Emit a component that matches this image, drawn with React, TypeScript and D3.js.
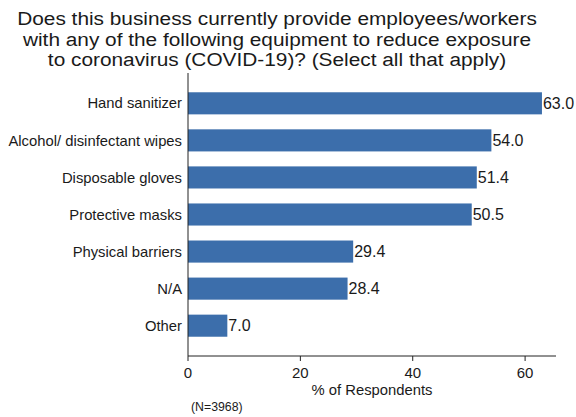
import React from "react";
import * as d3 from "d3";

const categories = [
  "Hand sanitizer",
  "Alcohol/ disinfectant wipes",
  "Disposable gloves",
  "Protective masks",
  "Physical barriers",
  "N/A",
  "Other",
];
const values = [63.0, 54.0, 51.4, 50.5, 29.4, 28.4, 7.0];
const xTicks = [0, 20, 40, 60];
const titleLines = [
  "Does this business currently provide employees/workers",
  "with any of the following equipment to reduce exposure",
  "to coronavirus (COVID-19)? (Select all that apply)",
];
const xLabel = "% of Respondents";
const note = "(N=3968)";

const W = 576;
const H = 417;
const left = 188;
const right = 556;
const top = 73;
const bottom = 356;
const font = "'Liberation Sans', Arial, sans-serif";
const barColor = "#3c6eab";
const textColor = "#1a1a1a";

export default function App() {
  const x = d3.scaleLinear().domain([0, 65.5]).range([left, right]);
  const y = d3
    .scaleBand<string>()
    .domain(categories)
    .range([top, bottom])
    .paddingInner(0.404)
    .paddingOuter(0.52);

  return (
    <svg
      width={W}
      height={H}
      style={{ position: "absolute", left: 0, top: 0, background: "#fff" }}
      fontFamily={font}
    >
      <rect width={W} height={H} fill="#fff" />
      <g transform="translate(277,0) scale(1.145,1)">
        {titleLines.map((t, i) => (
          <text
            key={i}
            x={0}
            y={25.5 + i * 20.4}
            textAnchor="middle"
            fontSize={18.2}
            fill={textColor}
          >
            {t}
          </text>
        ))}
      </g>
      {categories.map((c, i) => {
        const yc = (y(c) as number) + y.bandwidth() / 2;
        return (
          <g key={c}>
            <rect
              x={x(0)}
              y={y(c)}
              width={x(values[i]) - x(0)}
              height={y.bandwidth()}
              fill={barColor}
            />
            <text
              x={182}
              y={yc}
              dy="0.35em"
              textAnchor="end"
              fontSize={14.8}
              fill={textColor}
            >
              {c}
            </text>
            <text
              x={x(values[i]) + 1}
              y={yc}
              dy="0.36em"
              fontSize={16}
              fill={textColor}
            >
              {values[i].toFixed(1)}
            </text>
          </g>
        );
      })}
      <line x1={left} x2={left} y1={top} y2={bottom} stroke="#222" strokeWidth={1} />
      <line x1={left} x2={right} y1={bottom} y2={bottom} stroke="#222" strokeWidth={1} />
      {xTicks.map((t) => (
        <g key={t}>
          <line x1={x(t)} x2={x(t)} y1={bottom} y2={bottom + 5} stroke="#222" />
          <text x={x(t)} y={378} textAnchor="middle" fontSize={15} fill={textColor}>
            {t}
          </text>
        </g>
      ))}
      <text x={(left + right) / 2} y={394.5} textAnchor="middle" fontSize={14.8} fill={textColor}>
        {xLabel}
      </text>
      <text x={191} y={410.5} fontSize={12.3} fill={textColor}>
        {note}
      </text>
    </svg>
  );
}
